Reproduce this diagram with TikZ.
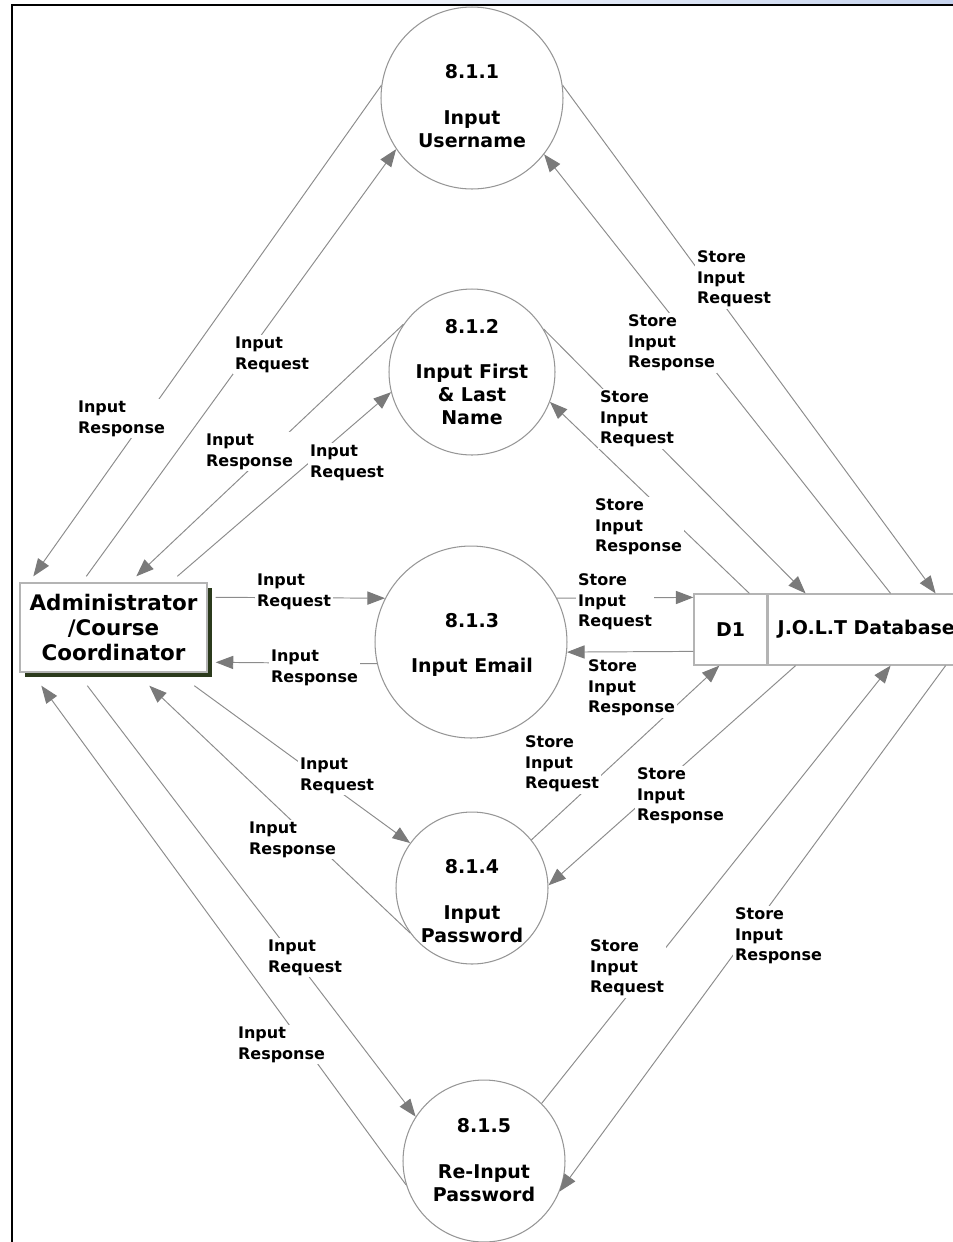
\documentclass[tikz,border=0pt]{standalone}
\usepackage{fontspec}
\setmainfont{DejaVu Sans}
\usepackage{tikz}
\usetikzlibrary{arrows.meta,calc,shadows}

\definecolor{flowgray}{HTML}{8C8C8C}
\definecolor{tipgray}{HTML}{7A7A7A}
\definecolor{edgegray}{HTML}{969696}
\definecolor{boxgray}{HTML}{B4B4B4}
\definecolor{shadowgreen}{HTML}{2B3A1C}
\definecolor{barblue}{HTML}{C6D3EE}

\tikzset{
  flow/.style={draw=flowgray,line width=0.55pt,-{Triangle[length=10pt,width=7.5pt,color=tipgray]}},
  proc/.style={circle,draw=edgegray,line width=0.6pt,inner sep=0pt},
  ptext/.style={align=center,font=\fontsize{10.8}{13}\selectfont\bfseries},
  store/.style={draw=boxgray,line width=0.7pt,minimum height=1.42cm,inner sep=0pt,font=\fontsize{10.8}{13}\selectfont\bfseries},
  lbl/.style={fill=white,inner sep=1pt,align=left,anchor=north west,font=\fontsize{9.1}{11.6}\selectfont\bfseries}
}

\begin{document}
\begin{tikzpicture}[x=0.02cm,y=-0.02cm]
    \useasboundingbox (0,0) rectangle (953,1242);
    \clip (0,0) rectangle (953,1242);
    \shade[left color=white,right color=barblue] (200,0) rectangle (953,3.5);
    \draw[line width=1.4pt] (12,1242) -- (12,5) -- (953,5);

    \node[proc,minimum size=3.64cm] (p1) at (472,98) {};
    \node[proc,minimum size=3.32cm] (p2) at (472,372) {};
    \node[proc,minimum size=3.84cm] (p3) at (471,642) {};
    \node[proc,minimum size=3.04cm] (p4) at (472,888) {};
    \node[proc,minimum size=3.24cm] (p5) at (484,1161) {};
    \node[ptext] (t1) at (472,106) {8.1.1\\[13pt]Input\\Username};
    \node[ptext] (t2) at (472,372) {8.1.2\\[13pt]Input First\\\& Last\\Name};
    \node[ptext] (t3) at (472,645) {8.1.3\\[13pt]Input Email};
    \node[ptext] (t4) at (472,901) {8.1.4\\[13pt]Input\\Password};
    \node[ptext] (t5) at (484,1160) {8.1.5\\[13pt]Re-Input\\Password};

    \node[draw=boxgray,line width=0.8pt,fill=white,minimum width=3.74cm,minimum height=1.78cm,
      align=center,font=\fontsize{12.2}{14.2}\selectfont\bfseries,
      drop shadow={shadow xshift=2.7pt,shadow yshift=-2.7pt,fill=shadowgreen,opacity=1}]
      (admin) at (113.5,627.5) {Administrator\\/Course\\Coordinator};
    \node[store,minimum width=1.46cm] (d1) at (730.5,629.5) {D1};
    \node[store,minimum width=3.92cm,anchor=west] (jolt) at (d1.east) {J.O.L.T Database};

    \draw[flow] ($(admin.north west)+(67,-6)$) -- (p1.214);
    \draw[flow] (p1.172) -- ($(admin.north west)+(14,-6)$);
    \draw[flow] ($(admin.north west)+(158,-6)$) -- (p2.194);
    \draw[flow] (p2.145) -- ($(admin.north west)+(117,-6)$);
    \draw[flow] ($(admin.north east)+(8,15)$) -- (p3.153);
    \draw[flow] (p3.193) -- ($(admin.north east)+(8,80)$);
    \draw[flow] ($(admin.south west)+(175,13)$) -- (p4.144);
    \draw[flow] (p4.216) -- ($(admin.south west)+(130,13)$);
    \draw[flow] ($(admin.south west)+(68,13)$) -- (p5.147);
    \draw[flow] (p5.197) -- ($(admin.south west)+(22,13)$);

    \draw[flow] (p1.8) -- ($(jolt.north west)+(168,0)$);
    \draw[flow] ($(jolt.north west)+(123,0)$) -- (p1.322);
    \draw[flow] (p2.31) -- ($(jolt.north west)+(38,0)$);
    \draw[flow] ($(d1.north west)+(56,0)$) -- (p2.339);
    \draw[flow] (p3.27) -- ($(d1.north west)+(0,4)$);
    \draw[flow] ($(d1.north west)+(0,58)$) -- (p3.354);
    \draw[flow] (p4.39) -- ($(d1.south west)+(26,0)$);
    \draw[flow] ($(jolt.south west)+(28,0)$) -- (p4.2);
    \draw[flow] (p5.45) -- ($(jolt.south west)+(123,0)$);
    \draw[flow] ($(jolt.south west)+(178,0)$) -- (p5.338);

    \node[lbl] (lr1) at (76,399) {Input\\Response};
    \node[lbl] (lq1) at (233,335) {Input\\Request};
    \node[lbl] (lr2) at (204,432) {Input\\Response};
    \node[lbl] (lq2) at (308,443) {Input\\Request};
    \node[lbl] (lq3) at (255,572) {Input\\Request};
    \node[lbl] (lr3) at (269,648) {Input\\Response};
    \node[lbl] (lq4) at (298,756) {Input\\Request};
    \node[lbl] (lr4) at (247,820) {Input\\Response};
    \node[lbl] (lq5) at (266,938) {Input\\Request};
    \node[lbl] (lr5) at (236,1025) {Input\\Response};

    \node[lbl] (sq1) at (695,249) {Store\\Input\\Request};
    \node[lbl] (sr1) at (626,313) {Store\\Input\\Response};
    \node[lbl] (sq2) at (598,389) {Store\\Input\\Request};
    \node[lbl] (sr2) at (593,497) {Store\\Input\\Response};
    \node[lbl] (sq3) at (576,572) {Store\\Input\\Request};
    \node[lbl] (sr3) at (586,658) {Store\\Input\\Response};
    \node[lbl] (sq4) at (523,734) {Store\\Input\\Request};
    \node[lbl] (sr4) at (635,766) {Store\\Input\\Response};
    \node[lbl] (sq5) at (588,938) {Store\\Input\\Request};
    \node[lbl] (sr5) at (733,906) {Store\\Input\\Response};
\end{tikzpicture}
\end{document}
